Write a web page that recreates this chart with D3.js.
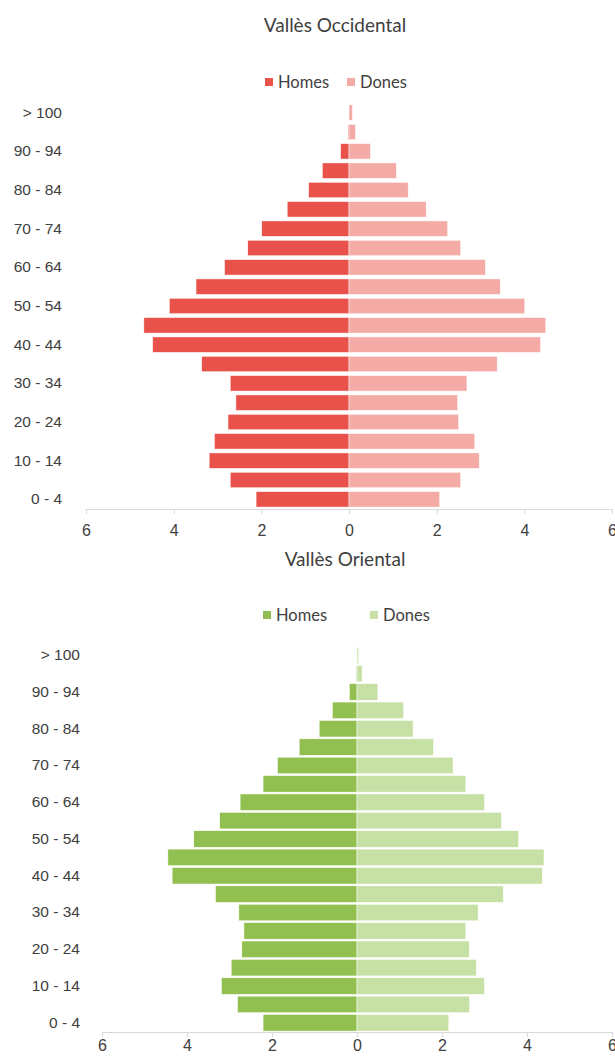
<!DOCTYPE html>
<html>
<head>
<meta charset="utf-8">
<script src="https://cdn.jsdelivr.net/npm/d3@7"></script>
<style>
  body { margin: 0; background: #fff; }
  svg { display: block; font-family: Lato, "Open Sans", sans-serif; }
  .tick text { fill: #404040; }
</style>
</head>
<body>
<div id="container"></div>
<script>
// Age groups, bottom to top
const ages = [
  "0 - 4", "5 - 9", "10 - 14", "15 - 19", "20 - 24", "25 - 29", "30 - 34",
  "35 - 39", "40 - 44", "45 - 49", "50 - 54", "55 - 59", "60 - 64", "65 - 69",
  "70 - 74", "75 - 79", "80 - 84", "85 - 89", "90 - 94", "95 - 99", "> 100"
];
const xTicks = [-6, -4, -2, 0, 2, 4, 6];
const seriesNames = ["Homes", "Dones"];

// % of population, same order as ages
const occidentalHomes = [2.12, 2.71, 3.19, 3.07, 2.76, 2.58, 2.71, 3.36, 4.48, 4.68,
  4.10, 3.49, 2.84, 2.31, 1.99, 1.41, 0.92, 0.61, 0.19, 0.02, 0.0];
const occidentalDones = [2.07, 2.55, 2.97, 2.87, 2.50, 2.48, 2.69, 3.38, 4.37, 4.49,
  4.01, 3.45, 3.11, 2.55, 2.25, 1.76, 1.35, 1.08, 0.49, 0.15, 0.08];
const orientalHomes = [2.21, 2.81, 3.19, 2.96, 2.71, 2.66, 2.78, 3.33, 4.35, 4.45,
  3.84, 3.23, 2.75, 2.21, 1.87, 1.36, 0.89, 0.58, 0.18, 0.02, 0.0];
const orientalDones = [2.16, 2.65, 3.00, 2.81, 2.64, 2.56, 2.85, 3.44, 4.36, 4.40,
  3.80, 3.40, 3.00, 2.56, 2.26, 1.80, 1.32, 1.10, 0.49, 0.12, 0.04];

const width = 615;
const height = 1061;

const svg = d3
  .select("#container")
  .append("svg")
  .attr("width", width)
  .attr("height", height);

const drawPyramid = (cfg) => {
  const g = svg.append("g");

  const xScale = d3.scaleLinear().domain([-6, 6]).range(cfg.xRange);
  const yScale = d3
    .scaleBand()
    .domain(ages)
    .range(cfg.yRange)
    .paddingInner(cfg.padInner)
    .paddingOuter(cfg.padInner / 2);

  // Title
  g.append("text")
    .attr("x", cfg.titleX)
    .attr("y", cfg.titleY)
    .attr("text-anchor", "middle")
    .attr("dominant-baseline", "central")
    .attr("font-size", 19)
    .attr("fill", "#404040")
    .text(cfg.title);

  // Legend
  const legend = g.append("g").attr("class", "legend");
  seriesNames.forEach((name, i) => {
    legend.append("rect")
      .attr("x", cfg.legendX[i])
      .attr("y", cfg.legendY - 4)
      .attr("width", 8)
      .attr("height", 8)
      .attr("fill", cfg.colors[i]);
    legend.append("text")
      .attr("x", cfg.legendX[i] + 13)
      .attr("y", cfg.legendY)
      .attr("dominant-baseline", "central")
      .attr("font-size", 16.5)
      .attr("fill", "#404040")
      .text(name);
  });

  // x axis
  const xAxis = d3
    .axisBottom(xScale)
    .tickValues(xTicks)
    .tickFormat((d) => Math.abs(d))
    .tickSize(5)
    .tickSizeOuter(0)
    .tickPadding(cfg.tickPad);
  const xa = g.append("g")
    .attr("transform", `translate(0,${cfg.axisY})`)
    .call(xAxis);
  xa.select(".domain").attr("stroke", "#d9d9d9");
  xa.selectAll(".tick line").attr("stroke", "#d9d9d9");
  xa.selectAll(".tick text").attr("font-size", 16).attr("font-family", null);

  // y axis, every other age group labelled
  const yAxis = d3
    .axisLeft(yScale)
    .tickValues(ages.filter((d, i) => i % 2 === 0))
    .tickSize(0)
    .tickPadding(0);
  const ya = g.append("g")
    .attr("transform", `translate(${cfg.labelX},0)`)
    .call(yAxis);
  ya.select(".domain").remove();
  ya.selectAll(".tick text").attr("font-size", 15.5).attr("font-family", null);

  // Bars
  g.selectAll(".men")
    .data(cfg.men)
    .enter()
    .append("rect")
    .attr("class", "men")
    .attr("x", (d) => xScale(-d))
    .attr("y", (d, i) => yScale(ages[i]))
    .attr("width", (d) => xScale(0) - xScale(-d))
    .attr("height", yScale.bandwidth())
    .attr("fill", cfg.colors[0])
    .attr("stroke", "#fff")
    .attr("stroke-width", 0.5);

  g.selectAll(".women")
    .data(cfg.women)
    .enter()
    .append("rect")
    .attr("class", "women")
    .attr("x", xScale(0))
    .attr("y", (d, i) => yScale(ages[i]))
    .attr("width", (d) => xScale(d) - xScale(0))
    .attr("height", yScale.bandwidth())
    .attr("fill", cfg.colors[1])
    .attr("stroke", "#fff")
    .attr("stroke-width", 0.5);
};

drawPyramid({
  title: "Vallès Occidental",
  titleX: 335,
  titleY: 24,
  legendX: [265, 347],
  legendY: 82,
  colors: ["#e8524a", "#f4aaa5"],
  men: occidentalHomes,
  women: occidentalDones,
  xRange: [86, 612],
  yRange: [509, 103],
  padInner: 0.2,
  axisY: 509,
  tickPad: 11,
  labelX: 62,
});

drawPyramid({
  title: "Vallès Oriental",
  titleX: 345,
  titleY: 558,
  legendX: [263, 370],
  legendY: 615,
  colors: ["#92c050", "#c7e0a5"],
  men: orientalHomes,
  women: orientalDones,
  xRange: [102, 612],
  yRange: [1032, 646],
  padInner: 0.1,
  axisY: 1032,
  tickPad: 3,
  labelX: 80,
});
</script>
</body>
</html>
